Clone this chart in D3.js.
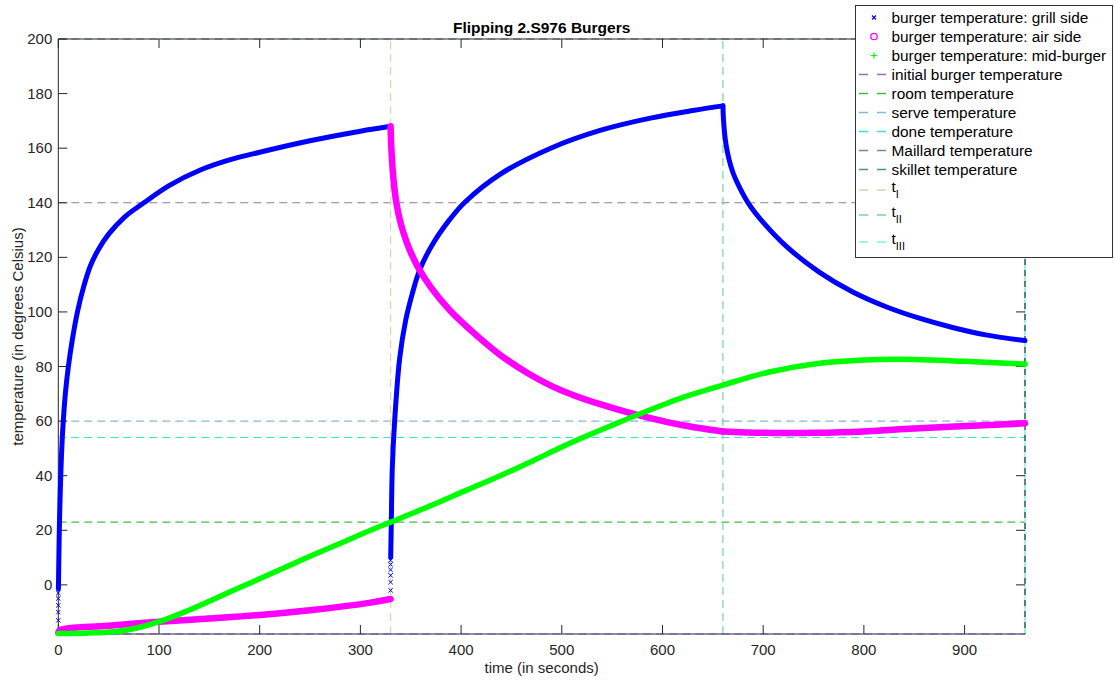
<!DOCTYPE html>
<html>
<head>
<meta charset="utf-8">
<script src="https://cdn.jsdelivr.net/npm/d3@7"></script>
<style>
  body { margin: 0; background: #fff; }
  text { font-family: "Liberation Sans", Arial, Helvetica, sans-serif; fill: #262626; }
</style>
</head>
<body>
<svg id="chart" width="1115" height="682"></svg>
<script>
// ---- data -------------------------------------------------------------
const chartTitle = "Flipping 2.S976 Burgers";
const xTicks = [0, 100, 200, 300, 400, 500, 600, 700, 800, 900];
const yTicks = [0, 20, 40, 60, 80, 100, 120, 140, 160, 180, 200];
const xDomain = [0, 960];
const yDomain = [-18, 200];

// grill side (blue 'x'), one array per cooking phase: [time s, temp C]
const grillJump1 = [[0, -13], [0, -10], [0, -7.5], [0, -5], [0, -3]];
const grillPhase1 = [[0.1, -1.5], [0.4, 6], [1, 20], [2, 35], [3, 46], [4.6, 58], [7, 70], [10, 80],
  [14, 90], [19, 100], [25, 109], [32, 117], [40, 123], [50, 128.5], [65, 134.5], [85, 140],
  [110, 146.3], [141, 152], [170, 155.7], [200, 158.5], [250, 162.7], [300, 166.2], [330, 168]];
const grillJump2 = [[330, -2], [330, 1], [330, 3.5], [330, 5.5], [330, 7.5], [330, 9]];
const grillPhase2 = [[330.1, 10], [330.7, 23], [331.7, 43], [334, 60], [339, 83], [345, 97], [351, 106],
  [359, 115.5], [372, 125], [389, 134], [404, 140.3], [439, 150.5], [489, 160], [538, 166.5],
  [588, 171], [630, 173.8], [660, 175.5]];
const grillPhase3 = [[660, 175.5], [660.5, 171], [661.5, 166], [663, 161.5], [666, 156], [670, 151],
  [676, 146], [685, 140], [700, 132.8], [723, 124], [756, 114.5], [789, 107.3], [822, 101.9],
  [855, 97.7], [888, 94.3], [921, 91.6], [960, 89.5]];

// air side (magenta 'o')
const airPhase1 = [[0, -17.5], [2, -16.5], [50, -15], [100, -13.5], [150, -12.3], [200, -11],
  [250, -9.3], [310, -6.5], [330, -5.2]];
const airPhase2 = [[330, 168], [330.5, 162], [331.5, 155], [333, 148], [335.7, 140], [340, 132.5],
  [346, 125.5], [351, 121], [357, 116.5], [370, 109], [389, 100.5], [415, 91.5], [439, 84.2],
  [465, 77.8], [489, 73], [513, 69.3], [538, 66.2], [563, 63.5], [588, 61.1], [620, 58.5], [660, 56.2]];
const airPhase3 = [[660, 56.2], [700, 55.7], [750, 55.7], [800, 56.2], [835, 57], [880, 57.8],
  [920, 58.5], [960, 59.2]];

// mid-burger (green '+')
const midBurger = [[0, -17.8], [30, -17.6], [58, -17.1], [78, -15.8], [101, -13.4], [125, -10],
  [151, -5.8], [175, -1.8], [201, 2.4], [230, 7.2], [257, 11.6], [285, 16], [310, 20], [330, 23],
  [360, 27.5], [406, 34.8], [440, 40.2], [472, 45.6], [500, 50.5], [525, 54.6], [550, 58.5], [571, 61.7],
  [600, 65.9], [621, 68.8], [660, 73.2], [706, 78], [756, 81.2], [800, 82.4], [850, 82.6], [900, 81.9],
  [960, 80.9]];

// reference temperatures (horizontal dashed lines)
const refLabels = ["initial burger temperature", "room temperature", "serve temperature",
  "done temperature", "Maillard temperature", "skillet temperature"];
const refValues = [-18, 23, 60, 54, 140, 200];

// phase end times (vertical dashed lines)
const timeSubscripts = ["I", "II", "III"];
const timeValues = [330, 660, 960];

const seriesLabels = ["burger temperature: grill side", "burger temperature: air side",
  "burger temperature: mid-burger"];

// ---- styles -----------------------------------------------------------
const seriesColors = ["#0000ff", "#ff00ff", "#00ff00"];
const refColors = ["#8e6fca", "#46bb46", "#86b6dc", "#2ee8d4", "#8c8084", "#4f8f8c"];
const timeColors = ["#d9d2b4", "#74d69c", "#84eee6"];

// ---- layout -----------------------------------------------------------
const svg = d3.select("#chart");
const m = { left: 58.3, right: 1025, top: 39, bottom: 634 };
const x = d3.scaleLinear().domain(xDomain).range([m.left, m.right]);
const y = d3.scaleLinear().domain(yDomain).range([m.bottom, m.top]);
const axisColor = "#262626";
const tickLen = 9;
const dash = "8,5";

const plot = svg.append("g");

// horizontal reference lines
refValues.forEach((v, i) => {
  plot.append("line")
    .attr("x1", x(xDomain[0])).attr("x2", x(xDomain[1]))
    .attr("y1", y(v)).attr("y2", y(v))
    .attr("stroke", refColors[i]).attr("stroke-width", 1.2)
    .attr("stroke-dasharray", dash);
});

// vertical phase lines
timeValues.forEach((v, i) => {
  plot.append("line")
    .attr("x1", x(v)).attr("x2", x(v))
    .attr("y1", y(yDomain[0])).attr("y2", y(yDomain[1]))
    .attr("stroke", timeColors[i]).attr("stroke-width", 1.2)
    .attr("stroke-dasharray", dash);
});

// axes box
const axG = svg.append("g");
axG.append("line").attr("x1", m.left).attr("x2", m.right).attr("y1", m.bottom).attr("y2", m.bottom)
  .attr("stroke", axisColor).attr("stroke-width", 1);
axG.append("line").attr("x1", m.left).attr("x2", m.right).attr("y1", m.top).attr("y2", m.top)
  .attr("stroke", axisColor).attr("stroke-width", 1);
axG.append("line").attr("x1", m.left).attr("x2", m.left).attr("y1", m.top).attr("y2", m.bottom)
  .attr("stroke", axisColor).attr("stroke-width", 1);
axG.append("line").attr("x1", m.right).attr("x2", m.right).attr("y1", m.top).attr("y2", m.bottom)
  .attr("stroke", timeColors[2]).attr("stroke-width", 1.2);
axG.append("line").attr("x1", m.right).attr("x2", m.right).attr("y1", m.top).attr("y2", m.bottom)
  .attr("stroke", "#111").attr("stroke-width", 1).attr("stroke-dasharray", "6,5");

// initial temperature line sits on the bottom edge
axG.append("line").attr("x1", m.left).attr("x2", m.right).attr("y1", y(-18)).attr("y2", y(-18))
  .attr("stroke", refColors[0]).attr("stroke-width", 1.2).attr("stroke-dasharray", dash);

// ticks (inward, on all four sides)
xTicks.forEach(t => {
  axG.append("line").attr("x1", x(t)).attr("x2", x(t)).attr("y1", m.bottom).attr("y2", m.bottom - tickLen)
    .attr("stroke", axisColor);
  axG.append("line").attr("x1", x(t)).attr("x2", x(t)).attr("y1", m.top).attr("y2", m.top + tickLen)
    .attr("stroke", axisColor);
  axG.append("text").attr("x", x(t)).attr("y", m.bottom + 21).attr("text-anchor", "middle")
    .attr("font-size", 15).text(t);
});
yTicks.forEach(t => {
  axG.append("line").attr("x1", m.left).attr("x2", m.left + tickLen).attr("y1", y(t)).attr("y2", y(t))
    .attr("stroke", axisColor);
  axG.append("line").attr("x1", m.right).attr("x2", m.right - tickLen).attr("y1", y(t)).attr("y2", y(t))
    .attr("stroke", axisColor);
  axG.append("text").attr("x", m.left - 6).attr("y", y(t) + 5).attr("text-anchor", "end")
    .attr("font-size", 15).text(t);
});

// axis labels and title
svg.append("text").attr("x", (m.left + m.right) / 2).attr("y", 673).attr("text-anchor", "middle")
  .attr("font-size", 15).text("time (in seconds)");
svg.append("text").attr("transform", `translate(23,${(m.top + m.bottom) / 2}) rotate(-90)`)
  .attr("text-anchor", "middle").attr("font-size", 15).text("temperature (in degrees Celsius)");
svg.append("text").attr("x", (m.left + m.right) / 2).attr("y", 33).attr("text-anchor", "middle")
  .attr("font-size", 15.5).attr("font-weight", "bold").style("fill", "#000").text(chartTitle);

// ---- series -----------------------------------------------------------
const line = d3.line().x(d => x(d[0])).y(d => y(d[1])).curve(d3.curveCatmullRom.alpha(0.5));
const dataG = svg.append("g");

function drawPath(data, color, width) {
  dataG.append("path").datum(data).attr("d", line)
    .attr("fill", "none").attr("stroke", color).attr("stroke-width", width)
    .attr("stroke-linecap", "round").attr("stroke-linejoin", "round");
}
function drawCross(data, color, size) {
  dataG.selectAll(null).data(data).enter().append("path")
    .attr("d", d => {
      const cx = x(d[0]), cy = y(d[1]);
      return `M${cx - size},${cy - size}L${cx + size},${cy + size}M${cx - size},${cy + size}L${cx + size},${cy - size}`;
    })
    .attr("stroke", color).attr("stroke-width", 1);
}

[grillPhase1, grillPhase2, grillPhase3].forEach(p => drawPath(p, seriesColors[0], 5));
drawCross(grillJump1, seriesColors[0], 2.2);
drawCross(grillJump2, seriesColors[0], 2.2);
[airPhase1, airPhase2, airPhase3].forEach(p => drawPath(p, seriesColors[1], 6.5));
drawPath(midBurger, seriesColors[2], 5.5);

// ---- legend -----------------------------------------------------------
const lg = svg.append("g");
lg.append("rect").attr("x", 855.5).attr("y", 5.5).attr("width", 257).attr("height", 252)
  .attr("fill", "#fff").attr("stroke", "#333").attr("stroke-width", 1);
const rowY = [17.5, 36.5, 55.5, 74.5, 93.5, 112.5, 131.5, 150.5, 169.5, 190, 215, 242];
const textX = 891.5;
const legendFont = 15.4;

// marker entries
lg.append("path").attr("d", `M872,15.5L876,19.5M872,19.5L876,15.5`).attr("stroke", seriesColors[0]).attr("stroke-width", 1.2);
lg.append("circle").attr("cx", 874).attr("cy", 36.5).attr("r", 3.2).attr("fill", "none")
  .attr("stroke", seriesColors[1]).attr("stroke-width", 1.3);
lg.append("path").attr("d", `M871,55.5L877,55.5M874,52.5L874,58.5`).attr("stroke", seriesColors[2]).attr("stroke-width", 1.2);
seriesLabels.forEach((s, i) => {
  lg.append("text").attr("x", textX).attr("y", rowY[i] + 5.5).attr("font-size", legendFont)
    .style("fill", "#000").text(s);
});

// dashed line entries
refLabels.forEach((s, i) => {
  const yy = rowY[3 + i];
  lg.append("line").attr("x1", 859).attr("x2", 886).attr("y1", yy).attr("y2", yy)
    .attr("stroke", refColors[i]).attr("stroke-width", 1.6).attr("stroke-dasharray", "9,9");
  lg.append("text").attr("x", textX).attr("y", yy + 5.5).attr("font-size", legendFont)
    .style("fill", "#000").text(s);
});
timeSubscripts.forEach((s, i) => {
  const yy = rowY[9 + i];
  lg.append("line").attr("x1", 859).attr("x2", 886).attr("y1", yy).attr("y2", yy)
    .attr("stroke", timeColors[i]).attr("stroke-width", 1.6).attr("stroke-dasharray", "9,9");
  const t = lg.append("text").attr("x", textX).attr("y", yy + 2).attr("font-size", legendFont)
    .style("fill", "#000");
  t.append("tspan").text("t");
  t.append("tspan").attr("dy", 6).attr("font-size", 11).text(s);
});
</script>
</body>
</html>
